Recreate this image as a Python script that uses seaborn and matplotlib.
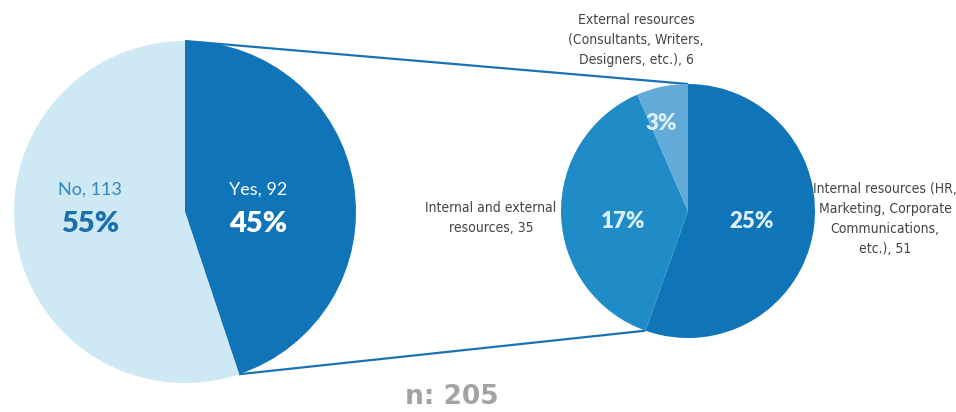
import numpy as np
import matplotlib
matplotlib.use('Agg')
import matplotlib.pyplot as plt
from matplotlib import font_manager
import seaborn as sns

# ── Data ──────────────────────────────────────────────────────────────────
main_labels = ['Yes', 'No']
main_counts = [92, 113]

sub_labels = ['Internal resources (HR,\nMarketing, Corporate\nCommunications,\netc.)',
              'Internal and external\nresources',
              'External resources\n(Consultants, Writers,\nDesigners, etc.)']
sub_counts = [51, 35, 6]

main_colors = ['#0f75b8', '#cfe9f4']
sub_colors = ['#0f75b8', '#1f8cc7', '#62abd9']

total = sum(main_counts)

sns.set_theme(style='white')
ttf = font_manager.fontManager.ttflist
installed = {f.name for f in ttf}
GEO = 'Lato' if 'Lato' in installed else 'DejaVu Sans'
plt.rcParams['font.family'] = [GEO, 'DejaVu Sans']

# look for any narrow / condensed regular face
cond_file = None
for f in ttf:
    key = (f.name + ' ' + str(f.stretch) + ' ' + f.fname).lower()
    if ('condensed' in key or 'narrow' in key) and f.weight in (400, 'normal', 'regular') \
            and f.style == 'normal' and 'bold' not in f.fname.lower():
        cond_file = f.fname
        break
if cond_file:
    cond_fp = font_manager.FontProperties(fname=cond_file, size=10)
else:
    cond_fp = font_manager.FontProperties(family='DejaVu Sans', size=8.5)

W, H = 956, 412
fig = plt.figure(figsize=(W / 100, H / 100), dpi=100)
ax = fig.add_axes([0, 0, 1, 1])

# pixel-like coordinates, y up
c1, r1 = (185, H - 212), 171
c2, r2 = (688, H - 211), 127

ax.pie(main_counts, colors=main_colors, startangle=90, counterclock=False,
       center=c1, radius=r1, wedgeprops=dict(linewidth=0))
ax.pie(sub_counts, colors=sub_colors, startangle=90, counterclock=False,
       center=c2, radius=r2, wedgeprops=dict(linewidth=0))

# ── connector lines ───────────────────────────────────────────────────────
def pt(c, r, deg):
    return c[0] + r * np.cos(np.radians(deg)), c[1] + r * np.sin(np.radians(deg))

yes_end = 90 - 360 * main_counts[0] / total
int_end = 90 - 360 * sub_counts[0] / sum(sub_counts)
for a, b in [(pt(c1, r1, 90), pt(c2, r2, 90)),
             (pt(c1, r1, yes_end), pt(c2, r2, int_end))]:
    ax.plot([a[0], b[0]], [a[1], b[1]], color='#1a72b2', lw=1.6,
            solid_capstyle='butt', zorder=0.5)

# ── labels on big pie ─────────────────────────────────────────────────────
pcts = [round(100 * v / total) for v in main_counts]
ax.text(258, H - 190, f'{main_labels[0]}, {main_counts[0]}', ha='center', va='center',
        fontsize=13, color='white', family=[GEO])
ax.text(258, H - 224, f'{pcts[0]}%', ha='center', va='center',
        fontsize=21, fontweight='heavy', color='white', family=[GEO])
ax.text(90, H - 190, f'{main_labels[1]}, {main_counts[1]}', ha='center', va='center',
        fontsize=13, color='#3288c0', family=[GEO])
ax.text(90, H - 224, f'{pcts[1]}%', ha='center', va='center',
        fontsize=21, fontweight='heavy', color='#1a6fae', family=[GEO])

# ── labels on small pie ───────────────────────────────────────────────────
sub_pcts = [round(100 * v / total) for v in sub_counts]
pct_pos = [(752, H - 221), (623, H - 221), (661, H - 123)]
for p, (x, y) in zip(sub_pcts, pct_pos):
    ax.text(x, y, f'{p}%', ha='center', va='center', fontsize=16,
            fontweight='heavy', color='#dcf0fa', family=[GEO])

lab_pos = [(885, H - 219), (491, H - 218), (636, H - 40)]
for lab, n, (x, y) in zip(sub_labels, sub_counts, lab_pos):
    ax.text(x, y, f'{lab}, {n}', ha='center', va='center', fontproperties=cond_fp,
            color='#444444', linespacing=1.55)

ax.text(452, H - 397, f'n: {total}', ha='center', va='center', fontsize=19,
        fontweight='bold', color='#a3a3a3', family=['DejaVu Sans'])

ax.set_xlim(0, W)
ax.set_ylim(0, H)
ax.set_aspect('equal')
ax.axis('off')
fig.savefig('out.png', dpi=100, facecolor='white')
